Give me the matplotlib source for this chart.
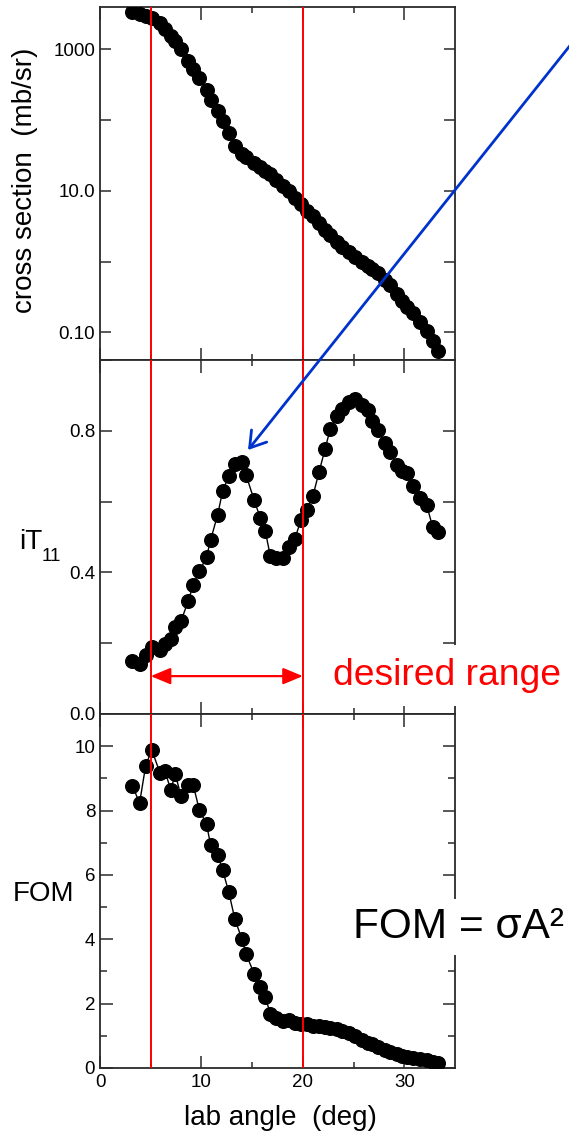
import numpy as np
import matplotlib
matplotlib.use("Agg")
import matplotlib.pyplot as plt
from matplotlib.ticker import FixedLocator, NullFormatter

plt.rcParams['font.family'] = ['Liberation Sans', 'DejaVu Sans']
plt.rcParams['mathtext.fontset'] = 'custom'
plt.rcParams['mathtext.rm'] = 'Liberation Sans'
plt.rcParams['mathtext.it'] = 'Liberation Sans:italic'

# lab angles (deg), shared by all three panels
angle = [3.2, 3.9, 4.5, 5.1, 5.9, 6.4, 7.0, 7.4, 8.0, 8.7,
         9.2, 9.8, 10.5, 10.9, 11.6, 12.1, 12.7, 13.3, 14.0, 14.4,
         15.2, 15.8, 16.3, 16.8, 17.4, 18.0, 18.6, 19.2, 19.8, 20.4,
         21.0, 21.6, 22.2, 22.7, 23.4, 23.9, 24.5, 25.1, 25.8, 26.4,
         26.8, 27.4, 28.1, 28.6, 29.3, 29.8, 30.3, 30.9, 31.5, 32.2,
         32.8, 33.3]

# differential cross section (mb/sr)
xsec = [3390, 3160, 2950, 2750, 2340, 1910, 1550, 1320, 1020, 692,
        525, 389, 269, 195, 135, 98, 66, 43, 33, 30,
        24.5, 21.9, 19.1, 17.0, 14.1, 11.7, 9.8, 7.9, 6.5, 5.2,
        4.4, 3.5, 2.75, 2.34, 1.86, 1.58, 1.35, 1.15, 1.0, 0.87,
        0.79, 0.68, 0.54, 0.47, 0.35, 0.28, 0.23, 0.19, 0.14, 0.105,
        0.076, 0.054]

# vector analyzing power iT11
it11 = [0.150, 0.141, 0.167, 0.188, 0.181, 0.199, 0.212, 0.247, 0.263, 0.320,
        0.365, 0.403, 0.443, 0.491, 0.563, 0.631, 0.672, 0.705, 0.712, 0.675,
        0.604, 0.554, 0.516, 0.445, 0.441, 0.442, 0.471, 0.494, 0.547, 0.575,
        0.617, 0.684, 0.750, 0.805, 0.843, 0.861, 0.880, 0.891, 0.873, 0.860,
        0.827, 0.803, 0.765, 0.740, 0.702, 0.687, 0.680, 0.643, 0.610, 0.591,
        0.528, 0.515]

# figure of merit
fom = [8.77, 8.23, 9.39, 9.89, 9.18, 9.22, 8.63, 9.15, 8.44, 8.78,
       8.78, 8.01, 7.58, 6.94, 6.63, 6.14, 5.46, 4.62, 4.00, 3.54,
       2.93, 2.53, 2.20, 1.68, 1.56, 1.46, 1.49, 1.40, 1.38, 1.36,
       1.32, 1.29, 1.27, 1.25, 1.21, 1.16, 1.08, 0.98, 0.87, 0.79,
       0.74, 0.65, 0.56, 0.50, 0.43, 0.38, 0.35, 0.31, 0.28, 0.24,
       0.20, 0.16]

range_lo, range_hi = 5, 20

W, H = 569, 1134
fig = plt.figure(figsize=(W / 100, H / 100), dpi=100)


def px_axes(top, bottom, left=100, right=455):
    return fig.add_axes([left / W, (H - bottom) / H, (right - left) / W, (bottom - top) / H])


ax1 = px_axes(7, 360)
ax2 = px_axes(360, 714)
ax3 = px_axes(714, 1068)

spine_c = '#2a2a2a'
for ax, y in ((ax1, xsec), (ax2, it11), (ax3, fom)):
    ax.plot(angle, y, '-', color='black', lw=1.0, marker='o', ms=9.8,
            mfc='black', mec='black', zorder=3)
    ax.axvline(range_lo, color='#ff0000', lw=1.4, zorder=4)
    ax.axvline(range_hi, color='#ff0000', lw=1.4, zorder=4)
    ax.set_xlim(0, 35)
    ax.xaxis.set_major_locator(FixedLocator([0, 10, 20, 30]))
    ax.xaxis.set_minor_locator(FixedLocator([5, 15, 25]))
    ax.tick_params(which='both', direction='in', top=True, right=True,
                   color=spine_c, width=1.1, labelsize=13.5)
    ax.tick_params(axis='x', which='major', length=9)
    ax.tick_params(axis='x', which='minor', length=4.5)
    ax.tick_params(axis='y', pad=3.5)
    ax.tick_params(axis='x', pad=4)
    for s in ax.spines.values():
        s.set_color(spine_c)
        s.set_linewidth(1.3)
    if ax is not ax3:
        ax.tick_params(axis='x', labelbottom=False)

# cross section
ax1.set_yscale('log')
ax1.set_ylim(0.0406, 3960)
ax1.yaxis.set_major_locator(FixedLocator([0.1, 10, 1000]))
ax1.yaxis.set_minor_locator(FixedLocator([1, 100]))
ax1.yaxis.set_minor_formatter(NullFormatter())
ax1.set_yticklabels(['0.10', '10.0', '1000'])
ax1.tick_params(axis='y', which='both', length=8)

# analyzing power
ax2.set_ylim(0, 1.0)
ax2.yaxis.set_major_locator(FixedLocator([0.0, 0.4, 0.8]))
ax2.yaxis.set_minor_locator(FixedLocator([0.2, 0.6, 1.0]))
ax2.set_yticklabels(['0.0', '0.4', '0.8'])
ax2.tick_params(axis='y', which='both', length=8.5)

# figure of merit
ax3.set_ylim(0, 11)
ax3.yaxis.set_major_locator(FixedLocator([0, 2, 4, 6, 8, 10]))
ax3.yaxis.set_minor_locator(FixedLocator([1, 3, 5, 7, 9]))
ax3.tick_params(axis='y', which='major', length=9)
ax3.tick_params(axis='y', which='minor', length=5)


def fx(x):
    return x / W


def fy(y):
    return (H - y) / H


fig.text(fx(25), fy(180), 'cross section  (mb/sr)', rotation=90,
         ha='center', va='center', fontsize=20)
fig.text(fx(19), fy(549), 'iT', ha='left', va='baseline', fontsize=20)
fig.text(fx(42), fy(561), '11', ha='left', va='baseline', fontsize=13.5)
fig.text(fx(13), fy(894), 'FOM', ha='left', va='center', fontsize=20)
fig.text(fx(280), fy(1118), 'lab angle  (deg)', ha='center', va='center', fontsize=20)

# desired angular range
ax2.annotate('', xy=(range_hi, 0.107), xytext=(range_lo, 0.107),
             arrowprops=dict(arrowstyle='<|-|>,head_length=1.2,head_width=0.5',
                             color='#ff0000', lw=1.6, shrinkA=0, shrinkB=0,
                             mutation_scale=10), zorder=5)
fig.text(fx(333), fy(685), 'desired range', color='#ff0000', fontsize=26.8,
         ha='left', va='baseline', zorder=6,
         bbox=dict(boxstyle='square,pad=0.35', fc='white', ec='none'))

fig.text(fx(353), fy(938), 'FOM = σA²', color='black', fontsize=30.5,
         ha='left', va='baseline', zorder=6,
         bbox=dict(boxstyle='square,pad=0.2', fc='white', ec='none'))

# pointer to the first iT11 maximum
fig.add_artist(matplotlib.patches.FancyArrowPatch(
    posA=(fx(580), fy(33)), posB=(fx(248), fy(450)),
    transform=fig.transFigure,
    arrowstyle='->,head_length=1.1,head_width=0.7', mutation_scale=10,
    color='#0033cc', lw=2.0, shrinkA=0, shrinkB=0, zorder=7))

fig.savefig('out.png', dpi=100)
